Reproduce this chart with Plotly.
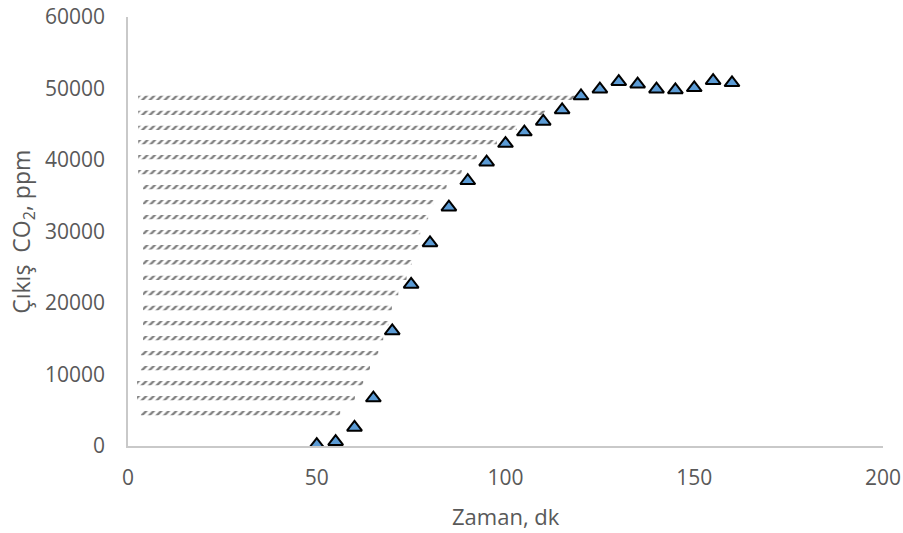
import plotly.graph_objects as go

# ---- data ----
time_min = [50, 55, 60, 65, 70, 75, 80, 85, 90, 95, 100, 105, 110, 115, 120,
            125, 130, 135, 140, 145, 150, 155, 160]
co2_ppm = [200, 600, 2600, 6700, 16100, 22600, 28400, 33400, 37100, 39700,
           42300, 43900, 45400, 47000, 48950, 49900, 50950, 50600, 49900,
           49800, 50100, 51100, 50800]

# hatched (shaded) region: one row of hatching per level
hatch_rows_y = [48700, 46600, 44500, 42500, 40400, 38300, 36200, 34100, 32000,
                29900, 27800, 25700, 23500, 21400, 19300, 17200, 15100, 13000,
                10900, 8800, 6700, 4600]
hatch_rows_start = [2.7, 2.7, 2.7, 2.7, 2.7, 2.7, 4.0, 4.0, 4.0, 4.0, 4.0,
                    4.0, 4.0, 4.0, 4.0, 4.0, 4.0, 3.4, 3.4, 2.4, 2.4, 3.4]
hatch_rows_end = [119.5, 110.5, 103.0, 97.7, 92.4, 88.4, 84.4, 80.9, 79.5,
                  77.4, 76.9, 75.2, 73.8, 71.6, 69.9, 69.0, 67.6, 66.3, 64.1,
                  62.3, 60.1, 56.2]

x_ticks = [0, 50, 100, 150, 200]
y_ticks = [0, 10000, 20000, 30000, 40000, 50000, 60000]

HALF = 300  # half-height of a hatch strip (style)

hx, hy = [], []
for yv, xs, xe in zip(hatch_rows_y, hatch_rows_start, hatch_rows_end):
    hx += [xs, xe, xe, xs, None]
    hy += [yv - HALF, yv - HALF, yv + HALF, yv + HALF, None]

FONT = "Open Sans"
GREY = "#595959"

fig = go.Figure()
fig.add_trace(go.Scatter(
    x=hx, y=hy, mode="lines", fill="toself",
    line=dict(width=0, color="rgba(0,0,0,0)"),
    fillcolor="rgba(0,0,0,0)",
    fillpattern=dict(shape="/", size=5.3, solidity=0.45,
                     fgcolor="#000000", bgcolor="rgba(0,0,0,0)"),
    hoverinfo="skip", showlegend=False,
))
fig.add_trace(go.Scatter(
    x=time_min, y=co2_ppm, mode="markers",
    marker=dict(symbol="triangle-up", size=13, color="#5B9BD5",
                line=dict(color="#000000", width=2)),
    showlegend=False,
))

fig.update_layout(
    width=903, height=533,
    margin=dict(l=128, r=20, t=17, b=87, autoexpand=False),
    paper_bgcolor="white", plot_bgcolor="white",
    font=dict(family=FONT, size=21, color=GREY),
    xaxis=dict(range=[0, 200], tickvals=x_ticks, tickformat="d",
               showgrid=False, zeroline=False, showline=True,
               linecolor="#C9C9C9", linewidth=1.5, ticks="",
               ticklabelstandoff=12, automargin=False,
               ticklabeloverflow="allow",
               tickfont=dict(family=FONT, size=21, color=GREY)),
    yaxis=dict(range=[0, 60000], tickvals=y_ticks, tickformat="d",
               showgrid=False, zeroline=False, showline=True,
               linecolor="#C9C9C9", linewidth=1.5, ticks="",
               ticklabelstandoff=17, automargin=False,
               ticklabeloverflow="allow",
               tickfont=dict(family=FONT, size=21, color=GREY)),
    annotations=[
        dict(text="Zaman, dk", xref="paper", yref="paper",
             x=0.5, y=-0.163, xanchor="center", yanchor="middle",
             showarrow=False, font=dict(family=FONT, size=22, color=GREY)),
        dict(text="Çıkış  CO<sub>2</sub>, ppm", xref="paper", yref="paper",
             x=-0.140, y=0.5, xanchor="center", yanchor="middle",
             textangle=-90, showarrow=False,
             font=dict(family=FONT, size=23, color=GREY)),
    ],
)

# remove the default page margin so the figure sits at the window's corner
fig.write_html("out.html", config={"displayModeBar": False},
               post_script="document.body.style.margin='0';")
